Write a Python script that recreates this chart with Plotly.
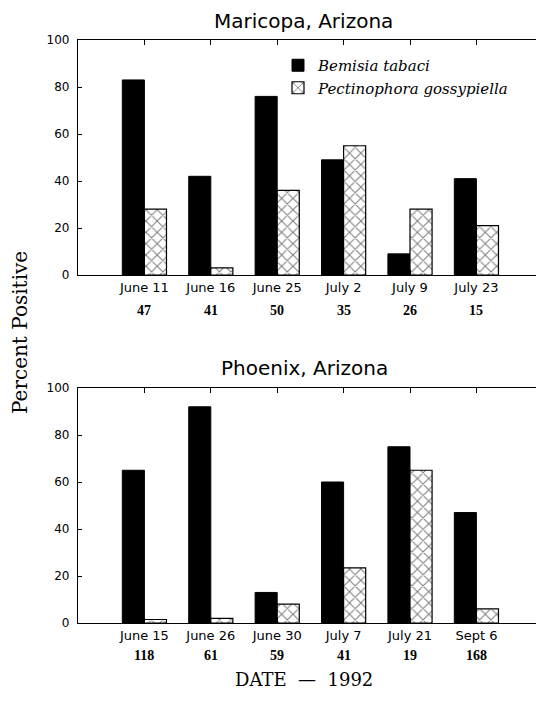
import plotly.graph_objects as go

# ---- data ----
top_dates = ["June 11", "June 16", "June 25", "July 2", "July 9", "July 23"]
top_n = ["47", "41", "50", "35", "26", "15"]
top_bemisia = [83, 42, 76, 49, 9, 41]
top_pect = [28, 3, 36, 55, 28, 21]

bot_dates = ["June 15", "June 26", "June 30", "July 7", "July 21", "Sept 6"]
bot_n = ["118", "61", "59", "41", "19", "168"]
bot_bemisia = [65, 92, 13, 60, 75, 47]
bot_pect = [1.5, 2, 8, 23.5, 65, 6]

series_names = ["Bemisia tabaci", "Pectinophora gossypiella"]
y_ticks = [0, 20, 40, 60, 80, 100]

# page has an 8px body margin; figure sized to fit the window
OFF = 8
W, H = 544 - OFF, 706 - OFF


def px(x):
    return (x - OFF) / W


def py(y):
    return 1 - (y - OFF) / H


idx = list(range(6))

fig = go.Figure()


def add_pair(xa, ya, bem, pect, show):
    fig.add_trace(go.Bar(
        x=idx, y=bem, name=series_names[0], xaxis=xa, yaxis=ya,
        marker=dict(color="black", line=dict(color="black", width=1)),
        showlegend=show, legendrank=1))
    fig.add_trace(go.Bar(
        x=idx, y=pect, name=series_names[1], xaxis=xa, yaxis=ya,
        marker=dict(color="white", line=dict(color="black", width=1.2),
                    pattern=dict(shape="x", fgcolor="black", bgcolor="white",
                                 size=8, solidity=0.25)),
        showlegend=show, legendrank=2))


add_pair("x", "y", top_bemisia, top_pect, True)
add_pair("x2", "y2", bot_bemisia, bot_pect, False)

xdom = [px(78), 1.0]
top_dom = [py(275), py(40)]
bot_dom = [py(623), py(388)]

# x range end so that the frame reaches the right edge of the window
x_end = -1 + (544 - 78) / 66.4

xcommon = dict(range=[-1, x_end], tickmode="array", tickvals=idx, automargin=False,
               showline=True, linecolor="black", linewidth=1.2, mirror="ticks",
               ticks="inside", ticklen=5, tickcolor="black",
               showgrid=False, zeroline=False,
               tickfont=dict(family="DejaVu Sans", size=13, color="black"))
ycommon = dict(range=[0, 100], tickvals=y_ticks, showline=True, linecolor="black",
               linewidth=1.2, ticks="inside", ticklen=4, tickcolor="black",
               showgrid=False, zeroline=False, automargin=False, ticklabelstandoff=5,
               tickfont=dict(family="DejaVu Sans", size=12, color="black"))

fig.update_layout(
    width=W, height=H, margin=dict(l=0, r=0, t=0, b=0, autoexpand=False),
    paper_bgcolor="white", plot_bgcolor="white",
    barmode="group", bargap=0.335, bargroupgap=0,
    xaxis=dict(domain=xdom, anchor="y", ticktext=top_dates, **xcommon),
    yaxis=dict(domain=top_dom, anchor="x", **ycommon),
    xaxis2=dict(domain=xdom, anchor="y2", ticktext=bot_dates, **xcommon),
    yaxis2=dict(domain=bot_dom, anchor="x2", **ycommon),
    legend=dict(x=px(278), y=py(49), xanchor="left", yanchor="top",
                bgcolor="rgba(0,0,0,0)",
                font=dict(family="DejaVu Serif", size=15, color="black",
                          style="italic"),
                tracegroupgap=4, itemwidth=30),
    font=dict(color="black"),
)

ann = []
# titles
ann.append(dict(text="Maricopa, Arizona", x=px(303), y=py(21), xref="paper", yref="paper",
                xanchor="center", yanchor="middle",
                showarrow=False, font=dict(family="DejaVu Sans", size=20, color="black")))
ann.append(dict(text="Phoenix, Arizona", x=px(304), y=py(368), xref="paper", yref="paper",
                xanchor="center", yanchor="middle",
                showarrow=False, font=dict(family="DejaVu Sans", size=20, color="black")))
# sample sizes
for i, n in enumerate(top_n):
    ann.append(dict(text="<b>" + n + "</b>", x=i, y=0, xref="x", yref="y", yshift=-35,
                    xanchor="center", yanchor="middle",
                    showarrow=False, font=dict(family="Liberation Serif", size=14, color="black")))
for i, n in enumerate(bot_n):
    ann.append(dict(text="<b>" + n + "</b>", x=i, y=0, xref="x2", yref="y2", yshift=-32,
                    xanchor="center", yanchor="middle",
                    showarrow=False, font=dict(family="Liberation Serif", size=14, color="black")))
# axis labels
ann.append(dict(text="Percent Positive", x=px(20), y=py(333), xref="paper", yref="paper",
                xanchor="center", yanchor="middle",
                textangle=-90, showarrow=False,
                font=dict(family="DejaVu Serif", size=20, color="black")))
ann.append(dict(text="DATE\u00a0\u00a0\u2014\u00a0\u00a01992", x=px(304), y=py(679),
                xref="paper", yref="paper", xanchor="center", yanchor="middle",
                showarrow=False, font=dict(family="DejaVu Serif", size=18, color="black")))
fig.update_layout(annotations=ann)

fig.write_html("out.html")
